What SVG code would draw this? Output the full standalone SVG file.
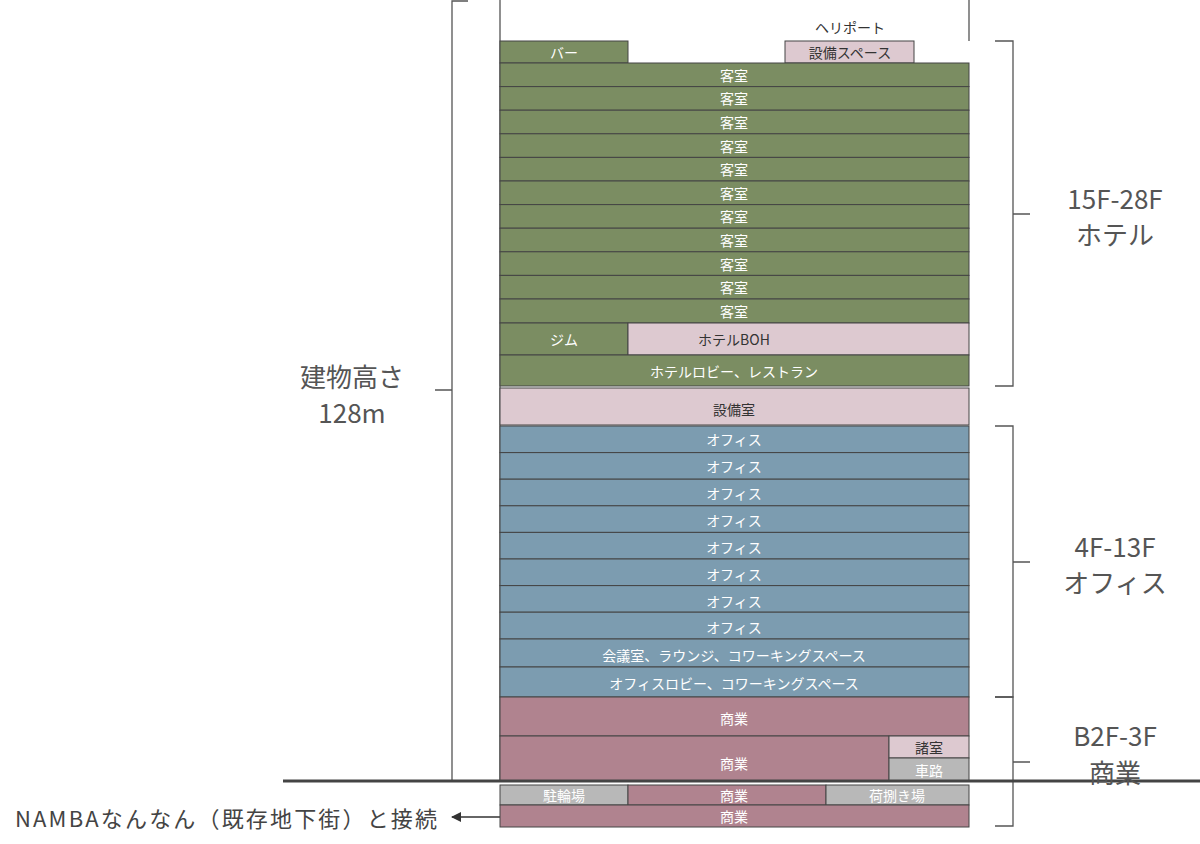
<svg xmlns="http://www.w3.org/2000/svg" width="1200" height="844" viewBox="0 0 1200 844">
<style>
text{font-family:"Noto Sans CJK JP","Noto Sans",sans-serif;text-anchor:middle;dominant-baseline:central}
.r rect{stroke:#444;stroke-width:1}
.r text{fill:#fff;font-size:14px}
.g{fill:#7b8d62}.p{fill:#ddc9d0}.b{fill:#7c9cb0}.m{fill:#b0838f}.y{fill:#b8b8b8}
.ln{stroke:#555;stroke-width:1.3;fill:none}
.big{font-size:26px;fill:#555}
</style>
<defs><marker id="ah" markerWidth="10" markerHeight="10" refX="9" refY="5" orient="auto" markerUnits="userSpaceOnUse"><path d="M0,0 L10,5 L0,10z" fill="#333"/></marker></defs>
<g id="connectors">
<path class="ln" d="M500,0V781M969,0V41M468,1H452V781M452,390H435"/>
<path class="ln" d="M995,41H1013V386H995M1013,214H1030"/>
<path class="ln" d="M995,426H1013V697H995M1013,562H1030"/>
<path class="ln" d="M995,697H1013V826H995M1013,762H1030"/>
<line x1="283" y1="781" x2="1200" y2="781" stroke="#444" stroke-width="3"/>
<line x1="525" y1="817" x2="452" y2="817" stroke="#333" stroke-width="1.3" marker-end="url(#ah)"/>
</g>
<text x="850" y="27" font-size="14" fill="#333">ヘリポート</text>
<g class="r">
<g id="bar"><rect class="g" x="500" y="41" width="128" height="22"/><text x="564" y="52">バー</text></g>
<g id="setsubi-space"><rect class="p" x="785" y="41" width="129" height="22"/><text x="850" y="52" style="fill:#333">設備スペース</text></g>
<g id="rooms">
<rect class="g" x="500" y="63" width="469" height="23.6"/><text x="734" y="75">客室</text>
<rect class="g" x="500" y="86.6" width="469" height="23.6"/><text x="734" y="98.4">客室</text>
<rect class="g" x="500" y="110.2" width="469" height="23.6"/><text x="734" y="122">客室</text>
<rect class="g" x="500" y="133.8" width="469" height="23.6"/><text x="734" y="145.6">客室</text>
<rect class="g" x="500" y="157.4" width="469" height="23.6"/><text x="734" y="169.2">客室</text>
<rect class="g" x="500" y="181" width="469" height="23.6"/><text x="734" y="192.8">客室</text>
<rect class="g" x="500" y="204.6" width="469" height="23.6"/><text x="734" y="216.4">客室</text>
<rect class="g" x="500" y="228.2" width="469" height="23.6"/><text x="734" y="240">客室</text>
<rect class="g" x="500" y="251.8" width="469" height="23.6"/><text x="734" y="263.6">客室</text>
<rect class="g" x="500" y="275.4" width="469" height="23.6"/><text x="734" y="287.2">客室</text>
<rect class="g" x="500" y="299" width="469" height="24"/><text x="734" y="311">客室</text>
</g>
<g id="gym"><rect class="g" x="500" y="323" width="128" height="32"/><text x="564" y="339">ジム</text></g>
<g id="boh"><rect class="p" x="628" y="323" width="341" height="32"/><text x="734" y="339" style="fill:#333">ホテルBOH</text></g>
<g id="lobby"><rect class="g" x="500" y="355" width="469" height="31"/><text x="734" y="371">ホテルロビー、レストラン</text></g>
<g id="setsubi"><rect class="p" x="500" y="388" width="469" height="37"/><text x="734" y="409" style="fill:#333">設備室</text></g>
<g id="offices">
<rect class="b" x="500" y="426" width="469" height="26.6"/><text x="734" y="439">オフィス</text>
<rect class="b" x="500" y="452.6" width="469" height="26.6"/><text x="734" y="466">オフィス</text>
<rect class="b" x="500" y="479.2" width="469" height="26.6"/><text x="734" y="493">オフィス</text>
<rect class="b" x="500" y="505.8" width="469" height="26.6"/><text x="734" y="520">オフィス</text>
<rect class="b" x="500" y="532.4" width="469" height="26.6"/><text x="734" y="547">オフィス</text>
<rect class="b" x="500" y="559" width="469" height="26.6"/><text x="734" y="574">オフィス</text>
<rect class="b" x="500" y="585.6" width="469" height="26.6"/><text x="734" y="601">オフィス</text>
<rect class="b" x="500" y="612.2" width="469" height="26.8"/><text x="734" y="627">オフィス</text>
</g>
<g id="meeting"><rect class="b" x="500" y="639" width="469" height="28"/><text x="734" y="655">会議室、ラウンジ、コワーキングスペース</text></g>
<g id="office-lobby"><rect class="b" x="500" y="667" width="469" height="30"/><text x="734" y="683">オフィスロビー、コワーキングスペース</text></g>
<g id="shop3"><rect class="m" x="500" y="697" width="469" height="39"/><text x="734" y="718">商業</text></g>
<g id="shop1"><rect class="m" x="500" y="736" width="389" height="44"/><text x="734" y="763">商業</text></g>
<g id="shoshitsu"><rect class="p" x="889" y="736" width="80" height="22"/><text x="929" y="747" style="fill:#333">諸室</text></g>
<g id="shadou"><rect class="y" x="889" y="758" width="80" height="22"/><text x="929" y="770">車路</text></g>
<g id="bicycle"><rect class="y" x="500" y="785" width="128" height="20"/><text x="564" y="795">駐輪場</text></g>
<g id="shopb1"><rect class="m" x="628" y="785" width="198" height="20"/><text x="734" y="795">商業</text></g>
<g id="loading"><rect class="y" x="826" y="785" width="143" height="20"/><text x="897" y="795">荷捌き場</text></g>
<g id="shopb2"><rect class="m" x="500" y="805" width="469" height="22"/><text x="734" y="816">商業</text></g>
</g>
<text class="big" x="352" y="375">建物高さ</text>
<text class="big" x="352" y="411">128m</text>
<text class="big" x="1115" y="197">15F-28F</text>
<text class="big" x="1115" y="233">ホテル</text>
<text class="big" x="1115" y="545">4F-13F</text>
<text class="big" x="1115" y="581">オフィス</text>
<text class="big" x="1115" y="734">B2F-3F</text>
<text class="big" x="1115" y="771">商業</text>
<text x="226" y="817" font-size="22" fill="#444" textLength="422">NAMBAなんなん（既存地下街）と接続</text>
</svg>
